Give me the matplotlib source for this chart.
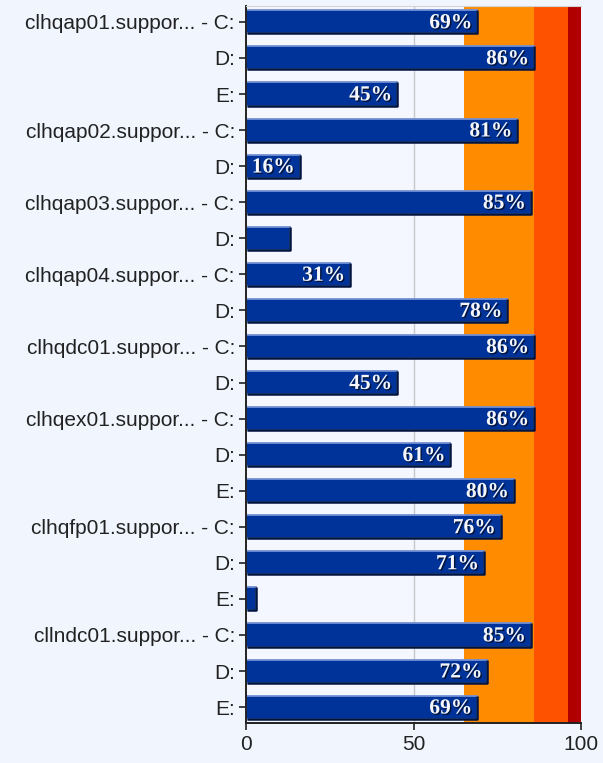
import matplotlib
matplotlib.use('Agg')
import matplotlib.pyplot as plt
import matplotlib.patheffects as pe

# one entry per disk, top to bottom
labels = ["clhqap01.suppor... - C:", "D:", "E:",
          "clhqap02.suppor... - C:", "D:",
          "clhqap03.suppor... - C:", "D:",
          "clhqap04.suppor... - C:", "D:",
          "clhqdc01.suppor... - C:", "D:",
          "clhqex01.suppor... - C:", "D:", "E:",
          "clhqfp01.suppor... - C:", "D:", "E:",
          "cllndc01.suppor... - C:", "D:", "E:"]
used = [69, 86, 45, 81, 16, 85, 13, 31, 78, 86, 45, 86, 61, 80, 76, 71, 3, 85, 72, 69]

# threshold bands behind the bars
band_edges = [0, 65, 86, 96, 100]
band_colors = ['#f4f7ff', '#ff8c00', '#ff5200', '#b00000']
xticks = [0, 50, 100]

bg = '#f0f5fe'
fig = plt.figure(figsize=(6.03, 7.63), dpi=100, facecolor=bg)
ax = fig.add_axes([246 / 603, 1 - 723 / 763, 335 / 603, 717 / 763])
ax.set_facecolor(bg)

for i in range(len(band_colors)):
    ax.axvspan(band_edges[i], band_edges[i + 1], color=band_colors[i], zorder=0, lw=0)
ax.axvline(50, color='#c8c8c8', lw=1, zorder=1)

y = list(range(len(labels)))
h = 0.64
ax.barh(y, used, height=h, color='#003399', edgecolor='#7490d4', linewidth=1.3, zorder=2)
for yi, v in zip(y, used):
    # dark lower/right edge of the bar
    ax.plot([0.3, v, v], [yi + h / 2, yi + h / 2, yi - h / 2], color='#001442', lw=1.8,
            zorder=3, solid_capstyle='butt')
    if v >= 15:
        t = ax.annotate(f"{v}%", (v, yi), xytext=(-3.5, -1), textcoords='offset points',
                        ha='right', va='center', color='#f4f6fb', fontsize=15.5,
                        family='Liberation Serif', weight='bold', zorder=4)
        t.set_path_effects([pe.SimplePatchShadow(offset=(1, -1), shadow_rgbFace='#001030', alpha=0.9),
                            pe.Normal()])

ax.set_xlim(0, 100)
ax.set_ylim(len(labels) - 1 + 0.44, -0.44)
ax.set_xticks(xticks)
ax.set_xticklabels([str(t) for t in xticks], fontsize=15, family='Liberation Sans', color='#222222')
ax.set_yticks(y)
ax.set_yticklabels(labels, fontsize=15, family='Liberation Sans', color='#222222')
ax.tick_params(axis='both', length=5, width=1.2, color='#222222')
ax.tick_params(axis='x', pad=4)
ax.tick_params(axis='y', pad=3)

for s in ['left', 'bottom']:
    ax.spines[s].set_color('#222222')
    ax.spines[s].set_linewidth(1.4)
ax.spines['top'].set_color('#d4d4d4')
ax.spines['right'].set_visible(False)

plt.savefig('out.png', dpi=100, facecolor=bg)
